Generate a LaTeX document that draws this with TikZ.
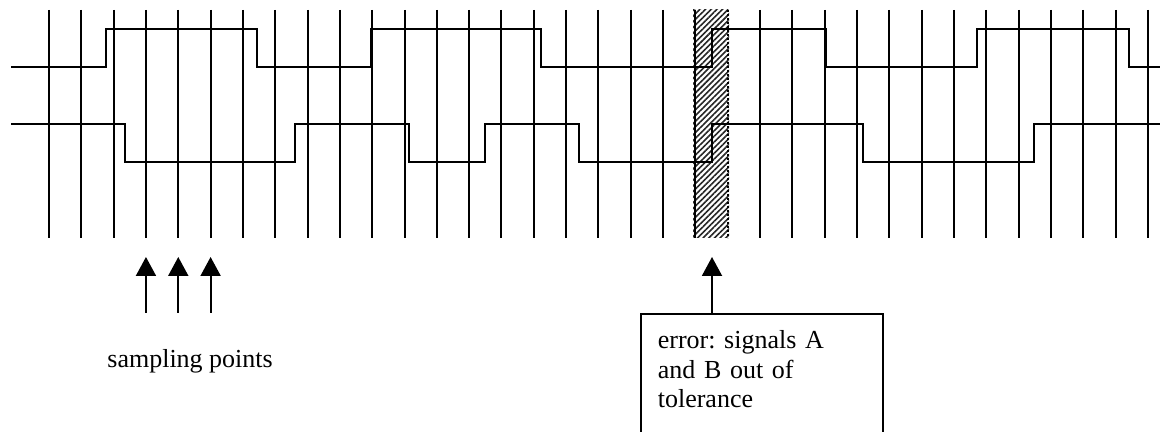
\documentclass[tikz,border=0pt]{standalone}
\usepackage{fontspec}
\setmainfont{Liberation Serif}
\frenchspacing
\usepackage{tikz}
\usetikzlibrary{
  arrows.meta,
  patterns.meta,
  positioning
}
\tikzset{
  >={Triangle[length=9.5pt,width=10pt]},
  every node/.style={font=\fontsize{13pt}{14.75pt}\selectfont, text=black},
  gridline/.style={line width=1pt},
  gapline/.style={line width=1pt, dash pattern=on 0.9pt off 1.1pt},
  signal/.style={line width=1pt, line join=miter},
  errzone/.style={
    pattern={Lines[angle=45, distance=2pt, line width=0.8pt]},
    pattern color=black!85
  },
  samplearr/.style={->, line width=1pt},
  notebox/.style={
    draw,
    line width=0.8pt,
    anchor=north west,
    align=left,
    text width=104pt,
    inner xsep=8.5pt,
    inner ysep=8.6pt,
    text height=8.9pt,
    text depth=70pt
  },
}

\begin{document}
\begin{tikzpicture}[x=0.5pt, y=-0.5pt]

  % picture frame (1160 x 432 px)
  \clip (0,0) rectangle (1160,432);

  % =====================================================================
  % out-of-tolerance window
  % =====================================================================
  \fill[errzone] (693,10) rectangle (729,238);

  % =====================================================================
  % sampling grid
  % =====================================================================
  \foreach \i in {0,...,34} {
    \coordinate (gtop\i) at ({49+32.32*\i},10);
    \coordinate (gbot\i) at ({49+32.32*\i},238);
  }
  \foreach \i in {0,...,20,22,23,...,34}
    \draw[gridline] (gtop\i) -- (gbot\i);
  \draw[gapline] (gtop21) -- (gbot21);

  % =====================================================================
  % signals A and B
  % =====================================================================
  \draw[signal]
    (11,67) -- (106,67) -- (106,29) -- (257,29) -- (257,67)
    -- (371,67) -- (371,29) -- (541,29) -- (541,67)
    -- (712,67) -- (712,29) -- (826,29) -- (826,67)
    -- (977,67) -- (977,29) -- (1129,29) -- (1129,67) -- (1162,67);
  \draw[signal]
    (11,124) -- (125,124) -- (125,162) -- (295,162) -- (295,124)
    -- (409,124) -- (409,162) -- (485,162) -- (485,124)
    -- (579,124) -- (579,162) -- (712,162) -- (712,124)
    -- (863,124) -- (863,162) -- (1034,162) -- (1034,124) -- (1162,124);

  % =====================================================================
  % sampling points
  % =====================================================================
  \foreach \i in {3,4,5} {
    \coordinate (stail\i) at (gbot\i |- 0,313);
    \coordinate (stip\i)  at (gbot\i |- 0,257);
    \draw[samplearr] (stail\i) -- (stip\i);
  }
  \node[anchor=base west, inner sep=0pt] (samplabel) at (107,367)
    {sampling points};

  % =====================================================================
  % error note
  % =====================================================================
  \node[notebox] (errnote) at (640,313)
    {error: signals A\\and B out of\\tolerance};
  \coordinate (errtip) at (712,257);
  \draw[samplearr] (errnote.north -| errtip) -- (errtip);

\end{tikzpicture}
\end{document}
